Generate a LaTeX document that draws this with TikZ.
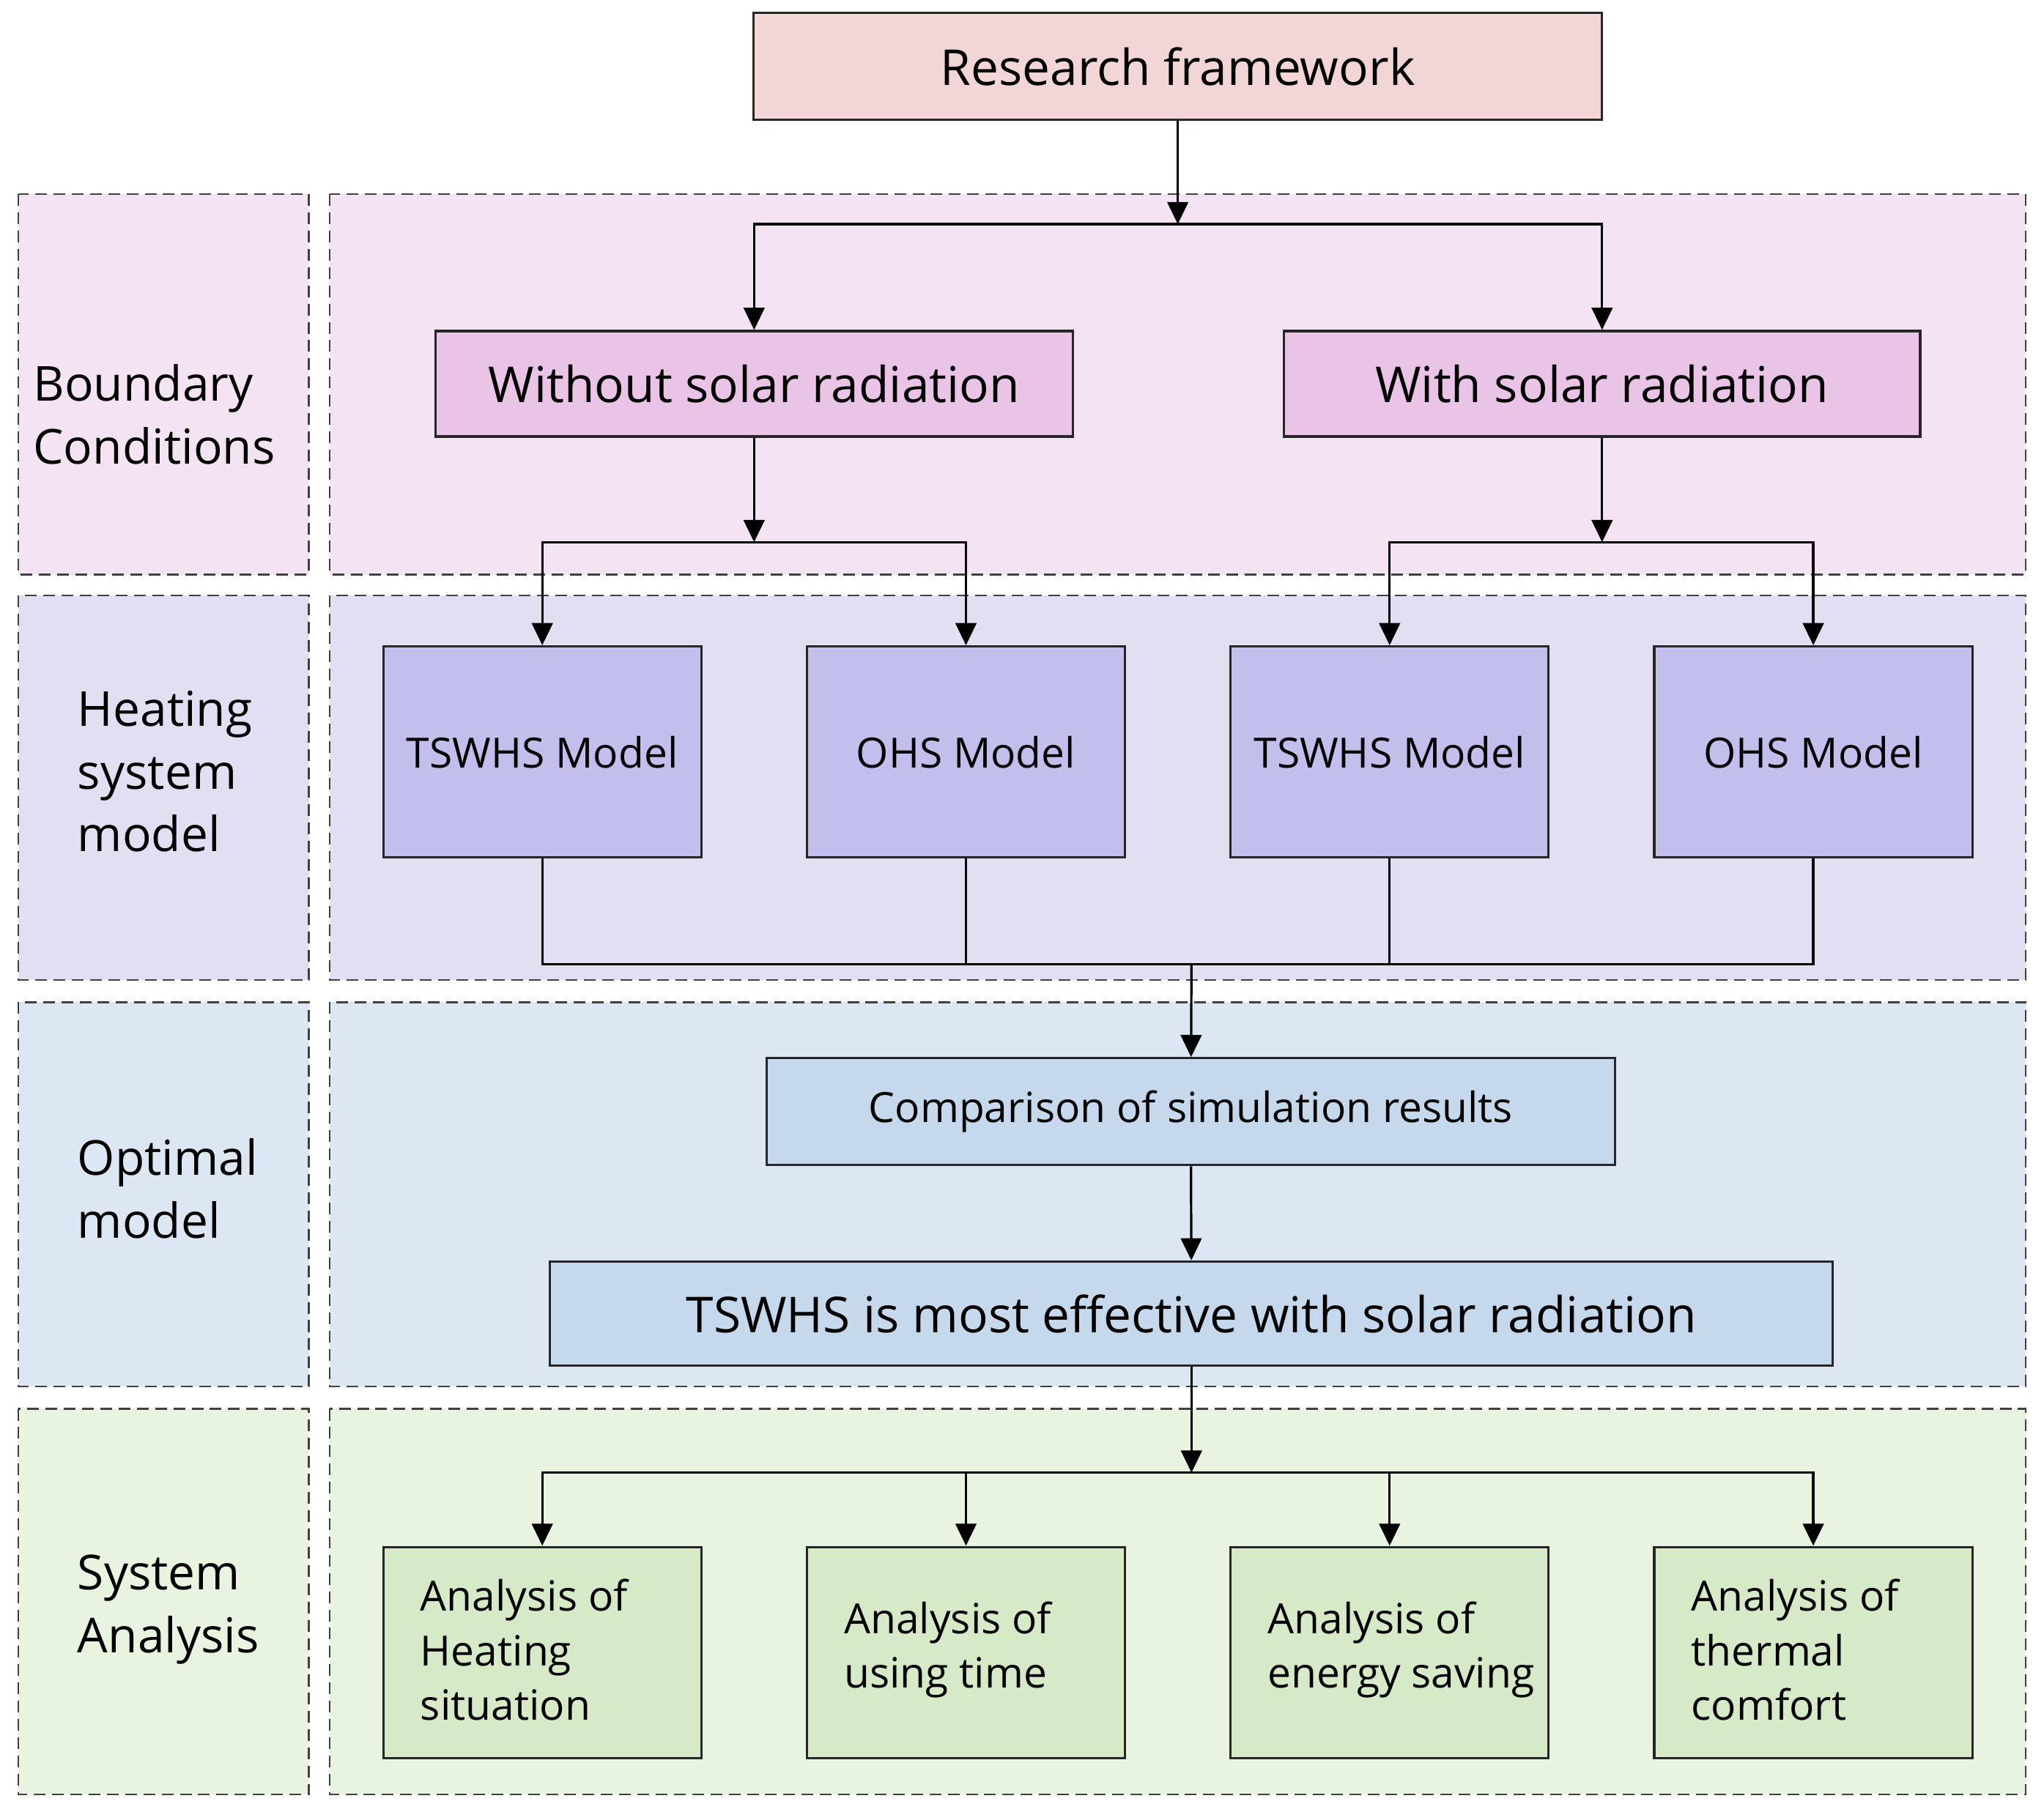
\documentclass[tikz,border=0pt]{standalone}
\usepackage{fontspec}
\setmainfont{Open Sans}
\usetikzlibrary{arrows.meta}
\definecolor{titlef}{HTML}{F2D5D5}
\definecolor{r1}{HTML}{F4E4F3}
\definecolor{r2}{HTML}{E2DFF3}
\definecolor{r3}{HTML}{DDE7F4}
\definecolor{r4}{HTML}{E9F4E0}
\definecolor{b1}{HTML}{EAC4E6}
\definecolor{b2}{HTML}{C2BFEC}
\definecolor{b3}{HTML}{C5D8EC}
\definecolor{b4}{HTML}{D7EAC8}
\begin{document}
\begin{tikzpicture}[x=1pt,y=-1pt,
  panel/.style={draw=black!75,dashed,line width=1.4pt,dash pattern=on 9pt off 5pt},
  box/.style={draw=black!85,line width=1.8pt,inner sep=0pt},
  big/.style={font=\fontsize{38}{44}\selectfont},
  mid/.style={font=\fontsize{32}{42}\selectfont},
  lab/.style={font=\fontsize{37}{48}\selectfont,align=left,anchor=west},
  arr/.style={line width=1.8pt,-{Triangle[length=17pt,width=16pt]}},
  ln/.style={line width=1.8pt}]
\useasboundingbox (0,0) rectangle (1568,1390);
% panels
\foreach \a/\b/\c in {149/441/r1,457/752/r2,769/1064/r3,1081/1377/r4}{
  \filldraw[panel,fill=\c] (14,\a) rectangle (237,\b);
  \filldraw[panel,fill=\c] (253,\a) rectangle (1554,\b);}
\node[lab] (l1) at (22,318) {Boundary\\Conditions};
\node[lab] (l2) at (56,592) {Heating\\system\\model};
\node[lab] (l3) at (56,912) {Optimal\\model};
\node[lab] (l4) at (56,1235) {System\\Analysis};
% boxes
\node[box,fill=titlef,minimum width=651pt,minimum height=82pt,big] (t) at (903.5,51) {Research framework};
\node[box,fill=b1,minimum width=489pt,minimum height=81pt,big] (w1) at (578.5,294.5) {Without solar radiation};
\node[box,fill=b1,minimum width=488pt,minimum height=81pt,big] (w2) at (1229,294.5) {With solar radiation};
\foreach \n/\x/\t in {m1/416/TSWHS Model,m2/741/OHS Model,m3/1066/TSWHS Model,m4/1391/OHS Model}{
  \node[box,fill=b2,minimum width=244pt,minimum height=162pt,mid] (\n) at (\x,577) {\t};}
\node[box,fill=b3,minimum width=651pt,minimum height=82pt,mid] (c) at (913.5,853) {Comparison of simulation results};
\node[box,fill=b3,minimum width=984pt,minimum height=80pt,big] (e) at (914,1008) {TSWHS is most effective with solar radiation};
\foreach \n/\x/\t in {a1/416/{Analysis of\\Heating\\situation},a2/741/{Analysis of\\using time},a3/1066/{Analysis of\\energy saving},a4/1391/{Analysis of\\thermal\\comfort}}{
  \node[box,fill=b4,minimum width=244pt,minimum height=162pt] (\n) at (\x,1268) {};
  \node[align=left,anchor=west,font=\fontsize{32}{42}\selectfont] at (\x-97,1266) {\t};}
% coordinates
\coordinate (j0) at (903.5,172);
\coordinate (j1) at (578.5,416);
\coordinate (j2) at (1229,416);
\coordinate (j3) at (914,740);
\coordinate (j4) at (914,1130);
% connectors
\draw[arr] (t) -- (j0);
\draw[arr] (j0) -| (w1);
\draw[arr] (j0) -| (w2);
\draw[arr] (w1) -- (j1);
\draw[arr] (w2) -- (j2);
\draw[arr] (j1) -| (m1);
\draw[arr] (j1) -| (m2);
\draw[arr] (j2) -| (m3);
\draw[arr] (j2) -| (m4);
\draw[ln] (m1.south) |- (j3);
\draw[ln] (m4.south) |- (j3);
\draw[ln] (m2.south) -- (m2.south |- j3);
\draw[ln] (m3.south) -- (m3.south |- j3);
\draw[arr] (j3) -- (c);
\draw[arr] (c) -- (e);
\draw[arr] (e) -- (j4);
\draw[arr] (j4) -| (a1);
\draw[arr] (j4) -| (a2);
\draw[arr] (j4) -| (a3);
\draw[arr] (j4) -| (a4);
\end{tikzpicture}
\end{document}
